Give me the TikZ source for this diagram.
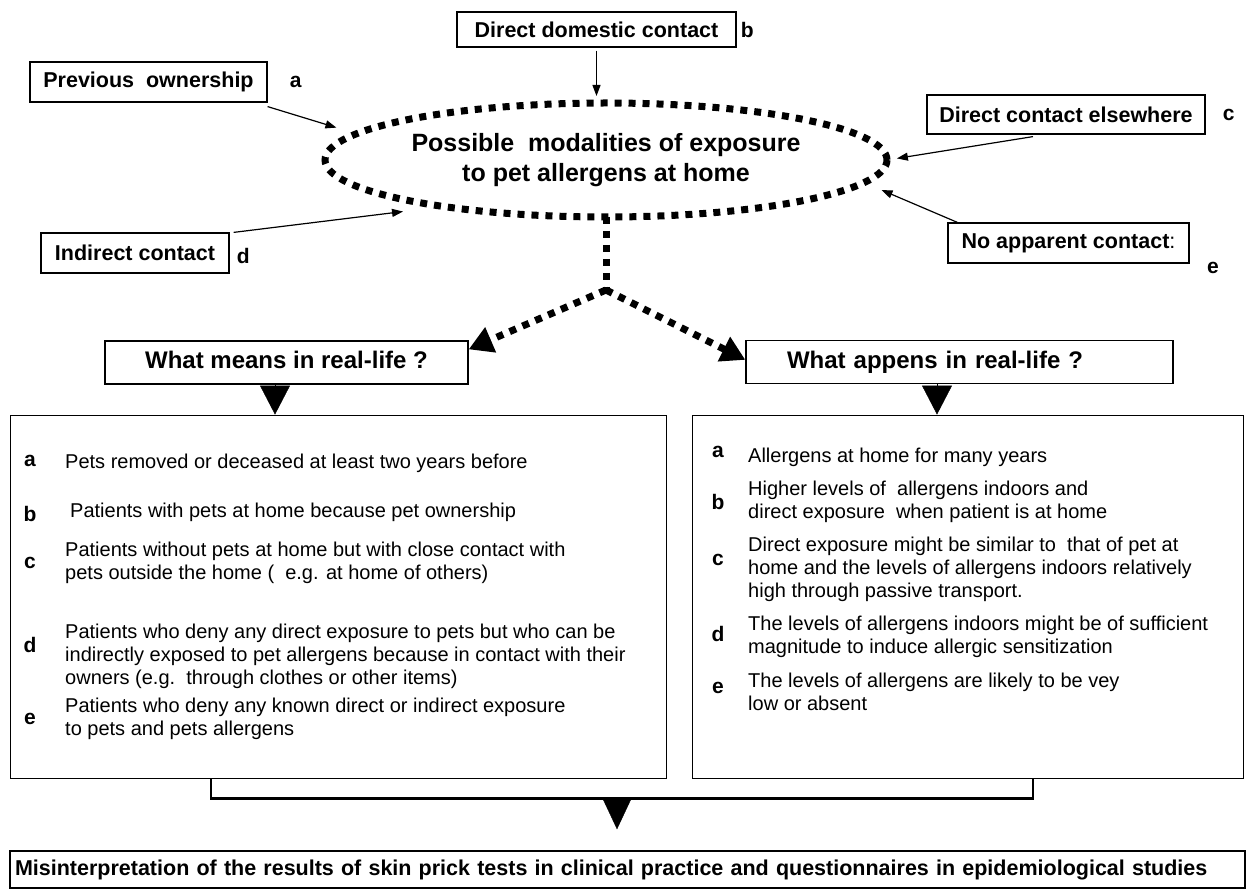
\documentclass[tikz,border=0pt]{standalone}
\usepackage{fontspec}
\setmainfont{Liberation Sans}
\usetikzlibrary{shapes.geometric}
\usetikzlibrary{arrows.meta}
\usetikzlibrary{positioning}

\begin{document}
\begin{tikzpicture}[x=1pt, y=-1pt,
    src/.style={draw, line width=1.2pt, inner sep=0pt, font=\fontsize{21.5}{25}\selectfont\bfseries},
    key/.style={inner sep=0pt, font=\fontsize{21}{24}\selectfont\bfseries},
    item/.style={anchor=west, align=left, inner sep=0pt, font=\fontsize{20}{23}\selectfont},
    head/.style={draw, line width=1.3pt, minimum height=43pt, inner sep=0pt, text height=17pt, text depth=5pt,
                 font=\fontsize{24}{28}\selectfont\bfseries},
    panel/.style={draw, line width=0.9pt, minimum height=363pt, inner sep=0pt},
    pin/.style={-{Triangle[length=11pt,width=8pt]}, line width=1.2pt},
    dots/.style={line width=7pt, dash pattern=on 7pt off 7pt},
    bigtip/.style={-{Triangle[length=24pt,width=26pt]}},
    tri/.style={-{Triangle[length=29pt,width=30pt]}, line width=0.4pt}]

  \useasboundingbox (0,0) rectangle (1247,890);

  % centre
  \node[ellipse, draw, dots, minimum width=562pt, minimum height=114pt, inner sep=0pt, outer sep=0pt,
        align=center, font=\fontsize{25}{30}\selectfont\bfseries] (hub) at (606,160)
        {Possible\ \ modalities of exposure\\to pet allergens at home};

  % sources of exposure
  \node[src, minimum width=279pt, minimum height=35pt] (dom) at (596.5,29.5) {Direct domestic contact};
  \node[src, minimum width=237pt, minimum height=40pt] (prev) at (148.5,82) {Previous\ \ ownership};
  \node[src, minimum width=278pt, minimum height=39pt] (away) at (1066,114.5) {Direct contact elsewhere};
  \node[src, minimum width=188pt, minimum height=40pt] (ind) at (135,253) {Indirect contact};
  \node[src, minimum width=241pt, minimum height=40pt] (none) at (1068.5,243) {No apparent contact{\mdseries:}};

  \node[key, right=4pt of dom] (kb) {b};
  \node[key, right=22pt of prev] (ka) {a};
  \node[key, right=17pt of away] (kc) {c};
  \node[key, right=7pt of ind, yshift=-3pt] (kd) {d};
  \node[key] (ke) at (1213,268) {e};

  \draw[pin, shorten <=3pt, shorten >=7pt] (dom.south) -- (dom.south |- hub.north);
  \draw[pin, shorten >=21pt] ([yshift=-4pt]prev.south east) -- (hub.174);
  \draw[pin, shorten >=41pt] ([xshift=4pt]ind.north east) -- (hub.196.5);
  \draw[pin, shorten >=10pt] ([xshift=-33pt,yshift=-2pt]away.south) -- (hub.east);
  \draw[pin, shorten >=19pt] ([xshift=10pt]none.north west) -- (hub.-5.8);

  % questions
  \node[head, minimum width=363pt] (qmean) at (286.5,362.5) {What means in real-life ?};
  \node[head, minimum width=427pt, text width=345pt, align=left] (qhap) at (959.5,362) {What appens in real-life ?};

  \coordinate (fork) at ([yshift=-73pt]hub.south);
  \draw[dots] (hub.south) -- (fork);
  \draw[dots, bigtip] (fork) -- ([yshift=-9pt]qmean.north east);
  \draw[dots, bigtip] (fork) -- ([yshift=-20pt]qhap.north west);

  % answers
  \node[panel, minimum width=656pt] (mean) at (338,596.5) {};
  \node[panel, minimum width=551pt] (hap) at (967.5,596.5) {};

  \draw[tri] ([xshift=-11.5pt]qmean.south) -- ([xshift=-11.5pt]qmean.south |- mean.north);
  \draw[tri] ([xshift=-22.5pt]qhap.south) -- ([xshift=-22.5pt]qhap.south |- hap.north);

  \node[key] (ma) at (30,461) {a};
  \node[item] (m1) at (65,463) {Pets removed or deceased at least two years before};
  \node[key] (mb) at (30,514) {b};
  \node[item] (m2) at (70,512) {Patients with pets at home because pet ownership};
  \node[key] (mc) at (30,563) {c};
  \node[item] (m3) at (65,562.5) {Patients without pets at home but with close contact with\\pets outside the home (\ \ e.g. at home of others)};
  \node[key] (md) at (30,645) {d};
  \node[item] (m4) at (65,656) {Patients who deny any direct exposure to pets but who can be\\indirectly exposed to pet allergens because in contact with their\\owners (e.g.\ \ through clothes or other items)};
  \node[key] (me) at (30,719) {e};
  \node[item] (m5) at (65,718.5) {Patients who deny any known direct or indirect exposure\\to pets and pets allergens};

  \node[key] (ha) at (718,452) {a};
  \node[item] (h1) at (748,457) {Allergens at home for many years};
  \node[key] (hb) at (718,502) {b};
  \node[item] (h2) at (748,501.5) {Higher levels of\ \ allergens indoors and\\direct exposure\ \ when patient is at home};
  \node[key] (hc) at (718,560) {c};
  \node[item] (h3) at (748,569) {Direct exposure might be similar to\ \ that of pet at\\home and the levels of allergens indoors relatively\\high through passive transport.};
  \node[key] (hd) at (718,634) {d};
  \node[item] (h4) at (748,636.5) {The levels of allergens indoors might be of sufficient\\magnitude to induce allergic sensitization};
  \node[key] (he) at (718,688) {e};
  \node[item] (h5) at (748,691.5) {The levels of allergens are likely to be vey\\low or absent};

  % outcome
  \draw[line width=2.2pt] ([xshift=-127pt]mean.south) |- ([xshift=65.5pt,yshift=-20pt]hap.south) -- ([xshift=65.5pt]hap.south);
  \coordinate (join) at (617,798);
  \node[draw, line width=1.4pt, minimum width=1235pt, minimum height=37pt, text width=1225pt, align=left,
        inner sep=0pt, font=\fontsize{21.5}{24}\selectfont\bfseries] (res) at (627.5,869.5)
        {Misinterpretation of the results of skin prick tests in clinical practice and questionnaires in epidemiological studies};
  \draw[-{Triangle[length=32pt,width=30pt]}, line width=0.4pt, shorten >=21pt] (join) -- (join |- res.north);
\end{tikzpicture}
\end{document}
